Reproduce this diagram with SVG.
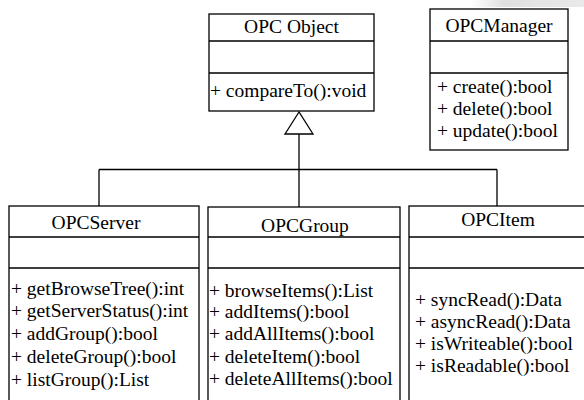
<svg xmlns="http://www.w3.org/2000/svg" width="584" height="400" viewBox="0 0 584 400">
<defs>
<style>
.box{fill:#fff;stroke:#000;stroke-width:1.3}
.ln{fill:none;stroke:#000;stroke-width:1.3}
.t{text-anchor:middle}
</style>
<linearGradient id="smudge" x1="0" x2="1" y1="0" y2="0">
<stop offset="0" stop-color="#ddd" stop-opacity="0"/>
<stop offset="0.3" stop-color="#d8d8d8" stop-opacity="0.8"/>
<stop offset="1" stop-color="#e4e4e4" stop-opacity="0.8"/>
</linearGradient>
</defs>
<rect width="584" height="400" fill="#fff"/>
<rect x="470" y="0" width="114" height="7" fill="url(#smudge)"/>
<g id="connectors">
<path class="ln" d="M299,134 V207 M99,169.5 H497 M99,169.5 V206 M497,169.5 V206"/>
<polygon class="ln" points="299,112 285,134 313,134" fill="#fff"/>
</g>
<g font-family="Liberation Serif, serif" font-size="19.5">
<g id="opc-object">
<rect class="box" x="209" y="14" width="165" height="97"/>
<path class="ln" d="M209,41 H374 M209,73 H374"/>
<text class="t" x="291.5" y="33">OPC Object</text>
<text x="210" y="97">+ compareTo():void</text>
</g>
<g id="opc-manager">
<rect class="box" x="430" y="9" width="138" height="141"/>
<path class="ln" d="M430,41 H568 M430,73 H568"/>
<text class="t" x="499" y="32">OPCManager</text>
<text x="437" y="93">+ create():bool</text>
<text x="437" y="115">+ delete():bool</text>
<text x="437" y="137">+ update():bool</text>
</g>
<g id="opc-server">
<rect class="box" x="9" y="206" width="190" height="210"/>
<path class="ln" d="M9,237 H199 M9,268 H199"/>
<text class="t" x="96" y="229">OPCServer</text>
<text x="11" y="295">+ getBrowseTree():int</text>
<text x="11" y="317">+ getServerStatus():int</text>
<text x="11" y="340">+ addGroup():bool</text>
<text x="11" y="363">+ deleteGroup():bool</text>
<text x="11" y="386">+ listGroup():List</text>
</g>
<g id="opc-group">
<rect class="box" x="208" y="207" width="192" height="210"/>
<path class="ln" d="M208,237 H400 M208,268 H400"/>
<text class="t" x="305" y="232">OPCGroup</text>
<text x="209" y="297">+ browseItems():List</text>
<text x="209" y="318">+ addItems():bool</text>
<text x="209" y="340">+ addAllItems():bool</text>
<text x="209" y="363">+ deleteItem():bool</text>
<text x="209" y="385">+ deleteAllItems():bool</text>
</g>
<g id="opc-item">
<rect class="box" x="409" y="206" width="190" height="210"/>
<path class="ln" d="M409,237 H599 M409,268 H599"/>
<text class="t" x="498" y="226">OPCItem</text>
<text x="415" y="306">+ syncRead():Data</text>
<text x="415" y="328">+ asyncRead():Data</text>
<text x="415" y="350">+ isWriteable():bool</text>
<text x="415" y="372">+ isReadable():bool</text>
</g>
</g>
</svg>
